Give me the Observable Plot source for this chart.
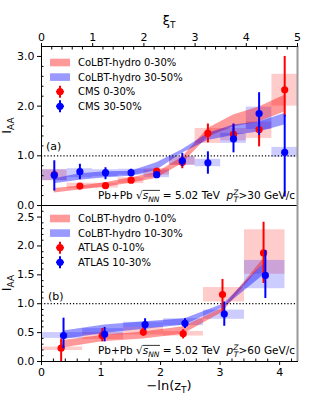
<!DOCTYPE html>
<html><head><meta charset="utf-8">
<script src="https://cdn.jsdelivr.net/npm/d3@7"></script>
<script src="https://cdn.jsdelivr.net/npm/@observablehq/plot@0.6"></script>
<style>
body{margin:0;background:#fff;}
#chart{width:330px;height:413px;position:relative;font-family:"DejaVu Sans",sans-serif;background:#fff;}
#chart svg{display:block;overflow:visible;}
</style></head><body><div id="chart"></div>
<script>
// ---------- Panel (a): CMS, xi_T ----------
const xiT = [0.25,0.75,1.25,1.75,2.25,2.75,3.25,3.75,4.25,4.75];
const xiLo = [0,0.5,1,1.5,2,2.5,3,3.5,4,4.5];
const xiHi = [0.5,1,1.5,2,2.5,3,3.5,4,4.5,5];
const cms030 = [0.62,0.39,0.40,0.51,0.69,0.87,1.45,1.43,1.53,2.33];
const cms030ErrLo = [0.55,0.35,0.36,0.47,0.64,0.74,1.26,1.28,1.18,1.78];
const cms030ErrHi = [0.69,0.43,0.44,0.55,0.74,0.97,1.64,1.62,1.85,3.00];
const cms030SysLo = [0.50,0.34,0.35,0.44,0.61,0.81,1.25,1.30,1.35,2.00];
const cms030SysHi = [0.72,0.45,0.45,0.56,0.74,0.98,1.55,1.55,1.68,2.64];
const cms3050 = [0.61,0.68,0.66,0.66,0.62,0.90,0.86,1.34,1.85,1.07];
const cms3050ErrLo = [0.29,0.52,0.52,0.58,0.55,0.78,0.63,1.06,1.41,0.17];
const cms3050ErrHi = [0.90,0.83,0.76,0.73,0.67,1.05,1.08,1.64,2.27,1.82];
const cms3050SysLo = [0.50,0.56,0.58,0.61,0.56,0.81,0.78,1.25,1.53,0.97];
const cms3050SysHi = [0.72,0.74,0.72,0.73,0.71,0.98,0.93,1.45,1.98,1.17];
const colbt030Lo = [0.25,0.31,0.37,0.45,0.55,0.84,1.38,1.58,1.68,1.88];
const colbt030Hi = [0.34,0.39,0.46,0.56,0.66,0.97,1.55,1.82,1.98,2.22];
const colbt3050Lo = [0.44,0.51,0.56,0.59,0.71,1.05,1.31,1.41,1.48,1.62];
const colbt3050Hi = [0.54,0.64,0.68,0.69,0.86,1.12,1.45,1.62,1.68,1.85];
const xiTicks = [0,1,2,3,4,5];
const yTicksA = [0,1,2,3];

// ---------- Panel (b): ATLAS, -ln(z_T) ----------
const lnzRed = [0.33,1.02,1.71,2.38,3.04,3.73];
const lnzBlue = [0.37,1.06,1.74,2.41,3.07,3.76];
const binLo = [0,0.69,1.38,2.05,2.72,3.41];
const binHi = [0.69,1.38,2.05,2.72,3.41,4.09];
const atlas010 = [0.23,0.45,0.51,0.48,1.16,1.88];
const atlas010ErrLo = [0.0,0.34,0.44,0.39,0.85,1.35];
const atlas010ErrHi = [0.39,0.57,0.61,0.55,1.42,2.41];
const atlas010SysLo = [0.19,0.38,0.46,0.44,1.03,1.51];
const atlas010SysHi = [0.25,0.50,0.59,0.52,1.28,2.28];
const atlas1030 = [0.45,0.47,0.64,0.66,0.82,1.49];
const atlas1030ErrLo = [0.22,0.34,0.54,0.57,0.61,1.09];
const atlas1030ErrHi = [0.75,0.59,0.74,0.74,1.03,1.92];
const atlas1030SysLo = [0.40,0.46,0.59,0.62,0.73,1.26];
const atlas1030SysHi = [0.50,0.57,0.68,0.74,0.89,1.75];
const colbt010Lo = [0.23,0.34,0.39,0.47,0.85,1.70];
const colbt010Hi = [0.36,0.45,0.51,0.60,0.92,1.78];
const colbt1030Lo = [0.38,0.49,0.56,0.63,0.94,1.52];
const colbt1030Hi = [0.53,0.63,0.69,0.74,1.00,1.72];
const lnzTicks = [0,1,2,3,4];
const yTicksB = [0,0.5,1,1.5,2,2.5];

const RED = "#ff0000", BLUE = "#0000ff";
const FONT = "DejaVu Sans";

function minorTicks(lo, hi, step, majors) {
  const out = [];
  for (let k = 0; lo + k * step <= hi + 1e-9; k++) {
    const v = +(lo + k * step).toFixed(4);
    if (!majors.some(m => Math.abs(m - v) < 1e-6)) out.push(v);
  }
  return out;
}

function seriesMarks(n, xs, v, eLo, eHi, sLo, sHi, bLo, bHi, color, boxLo, boxHi) {
  const idx = d3.range(n);
  return {
    box: Plot.rect(idx, {x1: i => boxLo[i], x2: i => boxHi[i], y1: i => sLo[i], y2: i => sHi[i], fill: color, fillOpacity: 0.2}),
    band: Plot.areaY(idx, {x: i => xs[i], y1: i => bLo[i], y2: i => bHi[i], fill: color, fillOpacity: 0.4}),
    err: Plot.ruleX(idx, {x: i => xs[i], y1: i => eLo[i], y2: i => eHi[i], stroke: color, strokeWidth: 2}),
    dot: Plot.dot(idx, {x: i => xs[i], y: i => v[i], r: 3.6, fill: color, stroke: "none"})
  };
}

const style = {fontFamily: FONT, fontSize: "11px", color: "black", background: "transparent", overflow: "visible"};

// Panel A
const aRed = seriesMarks(xiT.length, xiT, cms030, cms030ErrLo, cms030ErrHi, cms030SysLo, cms030SysHi, colbt030Lo, colbt030Hi, RED, xiLo, xiHi);
const aBlue = seriesMarks(xiT.length, xiT, cms3050, cms3050ErrLo, cms3050ErrHi, cms3050SysLo, cms3050SysHi, colbt3050Lo, colbt3050Hi, BLUE, xiLo, xiHi);
const plotA = Plot.plot({
  width: 330, height: 205, marginLeft: 41, marginRight: 33, marginTop: 46, marginBottom: 0,
  x: {domain: [0, 5]}, y: {domain: [0, 3.2]},
  style,
  marks: [
    aRed.box, aBlue.box, aRed.band, aBlue.band,
    Plot.ruleY([1], {stroke: "black", strokeWidth: 1.2, strokeDasharray: "1.2,2"}),
    aRed.err, aRed.dot, aBlue.err, aBlue.dot,
    Plot.frame({stroke: "black", strokeWidth: 1}),
    Plot.ruleX([5], {stroke: "#999", strokeWidth: 2}),
    Plot.axisY({ticks: yTicksA, tickFormat: d => d.toFixed(1), tickSize: 4, tickPadding: 3, label: null}),
    Plot.axisY({ticks: minorTicks(0, 3.2, 0.2, yTicksA), tickSize: 2.5, dx: 2.5, tickFormat: () => "", label: null}),
    Plot.axisX({anchor: "top", ticks: xiTicks, tickFormat: d => String(d), tickSize: 4, tickPadding: 2, label: null}),
    Plot.axisX({anchor: "top", ticks: minorTicks(0, 5, 0.2, xiTicks), tickSize: 2.5, dy: 2.5, tickFormat: () => "", label: null})
  ]
});

// Panel B
const bRed = seriesMarks(lnzRed.length, lnzRed, atlas010, atlas010ErrLo, atlas010ErrHi, atlas010SysLo, atlas010SysHi, colbt010Lo, colbt010Hi, RED, binLo, binHi);
const bBlue = seriesMarks(lnzBlue.length, lnzBlue, atlas1030, atlas1030ErrLo, atlas1030ErrHi, atlas1030SysLo, atlas1030SysHi, colbt1030Lo, colbt1030Hi, BLUE, binLo, binHi);
const plotB = Plot.plot({
  width: 330, height: 208, marginLeft: 41, marginRight: 33, marginTop: 0, marginBottom: 52,
  x: {domain: [0, 4.3]}, y: {domain: [0, 2.7]},
  style,
  marks: [
    bRed.box, bBlue.box, bRed.band, bBlue.band,
    Plot.ruleY([1], {stroke: "black", strokeWidth: 1.2, strokeDasharray: "1.2,2"}),
    bRed.err, bRed.dot, bBlue.err, bBlue.dot,
    Plot.frame({stroke: "black", strokeWidth: 1}),
    Plot.ruleX([4.3], {stroke: "#999", strokeWidth: 2}),
    Plot.axisY({ticks: yTicksB, tickFormat: d => d.toFixed(1), tickSize: 4, tickPadding: 3, label: null}),
    Plot.axisY({ticks: minorTicks(0, 2.7, 0.1, yTicksB), tickSize: 2.5, dx: 2.5, tickFormat: () => "", label: null}),
    Plot.axisX({anchor: "bottom", ticks: lnzTicks, tickFormat: d => String(d), tickSize: 4, tickPadding: 3, label: null}),
    Plot.axisX({anchor: "bottom", ticks: minorTicks(0, 4.3, 0.2, lnzTicks), tickSize: 2.5, dy: -2.5, tickFormat: () => "", label: null})
  ]
});

const chart = document.getElementById("chart");
chart.appendChild(plotA);
chart.appendChild(plotB);

// ---------- text helpers ----------
function richText(svg, x, y, parts, opt = {}) {
  const t = d3.select(svg).append("text")
    .attr("x", x).attr("y", y)
    .attr("font-family", FONT).attr("font-size", opt.size || 11)
    .attr("text-anchor", opt.anchor || "start").attr("fill", "black");
  if (opt.rotate) t.attr("transform", `rotate(${opt.rotate},${x},${y})`);
  for (const p of parts) {
    const s = t.append("tspan").text(p.t);
    if (p.size) s.attr("font-size", p.size);
    if (p.dy) s.attr("dy", p.dy);
    if (p.dx) s.attr("dx", p.dx);
    if (p.italic) s.attr("font-style", "italic");
  }
  return t;
}

// axis labels
richText(plotA, 169, 25, [{t: "ξ"}, {t: "T", size: 9, dy: 3}], {size: 13, anchor: "middle"});
richText(plotA, 11, 125.5, [{t: "I"}, {t: "AA", size: 9, dy: 3}], {size: 13, anchor: "middle", rotate: -90});
richText(plotB, 11, 78, [{t: "I"}, {t: "AA", size: 9, dy: 3}], {size: 13, anchor: "middle", rotate: -90});
richText(plotB, 169, 185, [{t: "−ln(z"}, {t: "T", size: 9, dy: 3}, {t: ")", dy: -3}], {size: 13, anchor: "middle"});

// panel tags
richText(plotA, 46, 150, [{t: "(a)"}], {size: 11});
richText(plotB, 48, 95, [{t: "(b)"}], {size: 11});

// Collision annotation
function annotation(svg, yBase, cut) {
  const t = richText(svg, 295, yBase, [
    {t: "Pb+Pb "}, {t: "√"}, {t: "s", italic: true}, {t: "NN", size: 7.5, dy: 2.5, italic: true},
    {t: " = 5.02 TeV  ", dy: -2.5}, {t: "p", italic: true},
    {t: "Z", size: 7.5, dy: -4.5, italic: true}, {t: "T", size: 7.5, dx: -4.6, dy: 7.5, italic: true},
    {t: ">" + cut + " GeV/c", dy: -3}
  ], {size: 10.5, anchor: "end"});
  try {
    const node = t.node();
    const full = node.textContent;
    const iS = full.indexOf("√") + 1;
    const iN = full.indexOf("NN") + 1;
    const p0 = node.getStartPositionOfChar(iS);
    const p1 = node.getEndPositionOfChar(iN);
    d3.select(svg).append("line")
      .attr("x1", p0.x).attr("x2", p1.x + 0.5)
      .attr("y1", yBase - 8.6).attr("y2", yBase - 8.6)
      .attr("stroke", "black").attr("stroke-width", 0.8);
  } catch (e) {}
}
annotation(plotA, 199, "30");
annotation(plotB, 149, "60");

// Legends
function legend(svg, items, y0, dy) {
  const g = d3.select(svg).append("g").attr("text-anchor", "start");
  items.forEach((it, k) => {
    const y = y0 + k * dy;
    if (it.type === "band") {
      g.append("rect").attr("x", 50).attr("y", y - 3.8).attr("width", 20).attr("height", 7.6)
        .attr("fill", it.color).attr("fill-opacity", 0.4);
    } else {
      g.append("line").attr("x1", 60).attr("x2", 60).attr("y1", y - 6).attr("y2", y + 6)
        .attr("stroke", it.color).attr("stroke-width", 2);
      g.append("line").attr("x1", 56).attr("x2", 64).attr("y1", y).attr("y2", y)
        .attr("stroke", it.color).attr("stroke-width", 1.5);
      g.append("circle").attr("cx", 60).attr("cy", y).attr("r", 3.6).attr("fill", it.color);
    }
    g.append("text").attr("x", 78).attr("y", y + 3.6).attr("font-family", FONT)
      .attr("text-anchor", "start")
      .attr("font-size", 10).attr("fill", "black").text(it.label);
  });
}
legend(plotA, [
  {type: "band", color: RED, label: "CoLBT-hydro 0-30%"},
  {type: "band", color: BLUE, label: "CoLBT-hydro 30-50%"},
  {type: "pt", color: RED, label: "CMS 0-30%"},
  {type: "pt", color: BLUE, label: "CMS 30-50%"}
], 62.5, 14.6);
legend(plotB, [
  {type: "band", color: RED, label: "CoLBT-hydro 0-10%"},
  {type: "band", color: BLUE, label: "CoLBT-hydro 10-30%"},
  {type: "pt", color: RED, label: "ATLAS 0-10%"},
  {type: "pt", color: BLUE, label: "ATLAS 10-30%"}
], 13.5, 14.6);
</script></body></html>
